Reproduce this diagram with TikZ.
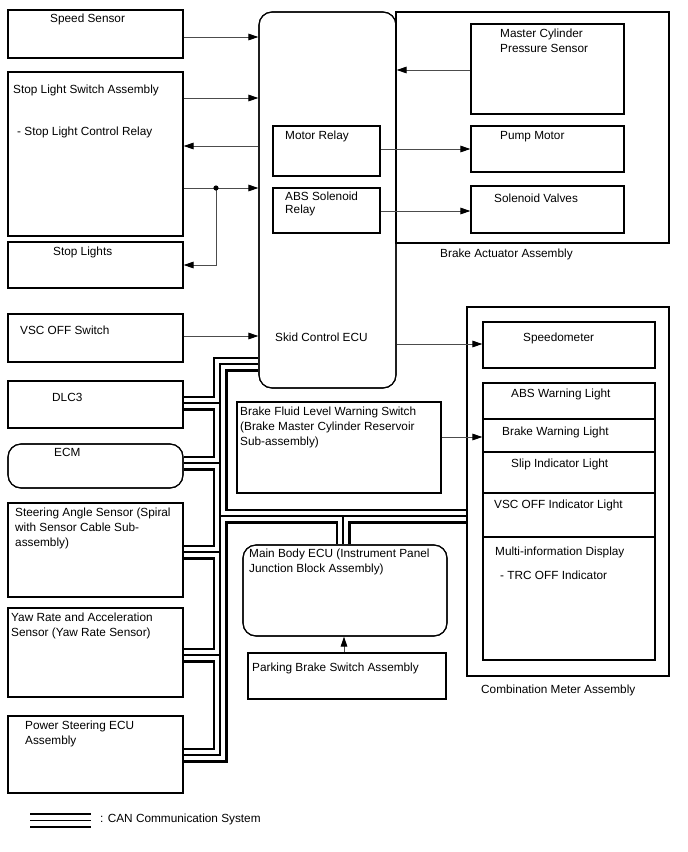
\documentclass[tikz,border=0pt]{standalone}
\usepackage{fontspec}
\setmainfont{Liberation Sans}
\usetikzlibrary{arrows.meta,fit}
\begin{document}
\begin{tikzpicture}[x=1pt,y=-1pt,
  box/.style={draw=black, line width=1.1pt, inner sep=0pt},
  rbox/.style={box, rounded corners=13pt},
  txt/.style={inner sep=0pt, font=\fontsize{11.8}{15}\selectfont, align=left},
  arr/.style={draw=black!70, line width=0.9pt, -{Triangle[length=10pt,width=6.5pt,color=black]}},
  busA/.style={draw=black, line width=15pt, line join=miter},
  busB/.style={draw=white, line width=10.6pt, line join=miter},
  busC/.style={draw=black, line width=1.1pt, line join=miter}]
\fill[white] (0,0) rectangle (688,852);
\useasboundingbox (0,0) rectangle (688,852);

% ---------- boxes (as fit nodes) ----------
\node[box, fit={(8,10)(183,58)}] (speed) {};
\node[box, fit={(8,72)(183,236)}] (sls) {};
\node[box, fit={(8,242)(183,288)}] (stopl) {};
\node[box, fit={(8,314)(183,362)}] (vsc) {};
\node[box, fit={(8,381)(183,428)}] (dlc) {};
\node[rbox, fit={(8,444)(183,488)}] (ecm) {};
\node[box, fit={(8,503)(183,597)}] (steer) {};
\node[box, fit={(8,608)(183,697)}] (yaw) {};
\node[box, fit={(8,716)(183,793)}] (pse) {};
\node[box, fit={(396,12)(669,243)}] (act) {};
\node[rbox, fit={(259,12)(396,388)}] (ecu) {};
\node[box, fit={(273,126)(380,176)}] (motor) {};
\node[box, fit={(273,188)(380,233)}] (abssol) {};
\node[box, fit={(471,24)(624,114)}] (mcps) {};
\node[box, fit={(471,126)(624,172)}] (pump) {};
\node[box, fit={(471,186)(624,233)}] (valves) {};
\node[box, fit={(237,402)(441,493)}] (bfl) {};
\node[rbox, fit={(243,545)(447,636)}] (mbe) {};
\node[box, fit={(248,653)(446,699)}] (pbs) {};
\node[box, fit={(467,307)(669,676)}] (cma) {};
\node[box, fit={(483,322)(655,368)}] (speedo) {};
\node[box, fit={(483,383)(655,660)}] (panel) {};
\foreach \yy in {419,452,493,537}
  \draw[line width=1.1pt] (panel.west |- 0,\yy) -- (panel.east |- 0,\yy);

% ---------- CAN bus ----------
\coordinate (bT) at (220,364);
\coordinate (bB) at (220,755);
\coordinate (jDLC) at (220,403);
\coordinate (jECM) at (220,463);
\coordinate (jR) at (220,516);
\coordinate (jSub) at (343,516);
\coordinate (jST) at (220,552);
\coordinate (jYAW) at (220,655);
\coordinate (lgA) at (30,820.5);
\coordinate (lgB) at (91,820.5);
\newcommand\busnet[1]{%
  \draw[#1] (ecu.west |- bT) -- (bT) -- (bB) -- (pse.east |- bB);
  \draw[#1] (jDLC) -- (dlc.east |- jDLC);
  \draw[#1] (jECM) -- (ecm.east |- jECM);
  \draw[#1] (jST) -- (steer.east |- jST);
  \draw[#1] (jYAW) -- (yaw.east |- jYAW);
  \draw[#1] (jR) -- (cma.west |- jR);
  \draw[#1] (jSub) -- (mbe.north -| jSub);
  \draw[#1] (lgA) -- (lgB);
}
\busnet{busA}
\busnet{busB}
\busnet{busC}
% redraw borders crossed by the bus
\draw[line width=1.1pt] (dlc.north east) -- (dlc.south east);
\draw[line width=1.1pt] (steer.north east) -- (steer.south east);
\draw[line width=1.1pt] (yaw.north east) -- (yaw.south east);
\draw[line width=1.1pt] (pse.north east) -- (pse.south east);
\draw[line width=1.1pt] (cma.north west) -- (cma.south west);
\node[rbox, fit={(8,444)(183,488)}] (ecmb) {};
\node[rbox, fit={(259,12)(396,388)}] (ecub) {};
\node[rbox, fit={(243,545)(447,636)}] (mbeb) {};

% ---------- arrows ----------
\draw[arr] (speed.east |- 0,37) -- (ecu.west |- 0,37);
\draw[arr] (sls.east |- 0,98) -- (ecu.west |- 0,98);
\draw[arr] (ecu.west |- 0,146) -- (sls.east |- 0,146);
\coordinate (jn) at (216,188);
\draw[arr] (sls.east |- jn) -- (ecu.west |- jn);
\draw[arr] (jn) |- (stopl.east |- 0,265);
\fill (jn) circle (2.6);
\draw[arr] (vsc.east |- 0,336) -- (ecu.west |- 0,336);
\draw[arr] (mcps.west |- 0,70) -- (ecu.east |- 0,70);
\draw[arr] (motor.east |- 0,149) -- (pump.west |- 0,149);
\draw[arr] (abssol.east |- 0,211) -- (valves.west |- 0,211);
\draw[arr] (ecu.east |- 0,344) -- (speedo.west |- 0,344);
\draw[arr] (bfl.east |- 0,437) -- (panel.west |- 0,437);
\draw[arr] (pbs.north -| 344,0) -- (mbe.south -| 344,0);

% ---------- texts ----------
\node[txt, anchor=base west] (tspeed) at (50,22.2) {Speed Sensor};
\node[txt, anchor=base west] (tsls) at (13,93.2) {Stop Light Switch Assembly};
\node[txt, anchor=base west] (tslr) at (17,135.2) {- Stop Light Control Relay};
\node[txt, anchor=base west] (tstopl) at (53,255.2) {Stop Lights};
\node[txt, anchor=base west] (tvsc) at (20,334.2) {VSC OFF Switch};
\node[txt, anchor=base west] (tdlc) at (52,401.2) {DLC3};
\node[txt, anchor=base west] (tecm) at (54,456.2) {ECM};
\node[txt, anchor=north west] (tsteer) at (15,507.5) {Steering Angle Sensor (Spiral\\with Sensor Cable Sub-\\assembly)};
\node[txt, anchor=north west] (tyaw) at (11,612.5) {Yaw Rate and Acceleration\\Sensor (Yaw Rate Sensor)};
\node[txt, anchor=north west] (tpse) at (25,720.5) {Power Steering ECU\\Assembly};
\node[txt, anchor=north west] (tmcps) at (500,28.5) {Master Cylinder\\Pressure Sensor};
\node[txt, anchor=base west] (tpump) at (500,139.2) {Pump Motor};
\node[txt, anchor=base west] (tvalves) at (494,202.2) {Solenoid Valves};
\node[txt, anchor=base west] (tmotor) at (285,139.2) {Motor Relay};
\node[txt, anchor=north west, font=\fontsize{11.8}{13.5}\selectfont] (tabs) at (285,191.5) {ABS Solenoid\\Relay};
\node[txt, anchor=base west] (tecu) at (275,341.2) {Skid Control ECU};
\node[txt, anchor=base west] (tact) at (440,257.2) {Brake Actuator Assembly};
\node[txt, anchor=north west] (tbfl) at (240,406.5) {Brake Fluid Level Warning Switch\\(Brake Master Cylinder Reservoir\\Sub-assembly)};
\node[txt, anchor=north west] (tmbe) at (249,548.5) {Main Body ECU (Instrument Panel\\Junction Block Assembly)};
\node[txt, anchor=base west] (tpbs) at (252,671.2) {Parking Brake Switch Assembly};
\node[txt, anchor=base west] (tspeedo) at (523,341.2) {Speedometer};
\node[txt, anchor=base west] (tabsw) at (511,397.2) {ABS Warning Light};
\node[txt, anchor=base west] (tbw) at (502,435.2) {Brake Warning Light};
\node[txt, anchor=base west] (tslip) at (511,467.2) {Slip Indicator Light};
\node[txt, anchor=base west] (tvscind) at (494,508.2) {VSC OFF Indicator Light};
\node[txt, anchor=base west] (tmid) at (495,555.2) {Multi-information Display};
\node[txt, anchor=base west] (ttrc) at (500,579.2) {- TRC OFF Indicator};
\node[txt, anchor=base west] (tcma) at (481,693.2) {Combination Meter Assembly};
\node[txt, anchor=base west] (tlg) at (100,822.2) {: CAN Communication System};
\end{tikzpicture}
\end{document}
